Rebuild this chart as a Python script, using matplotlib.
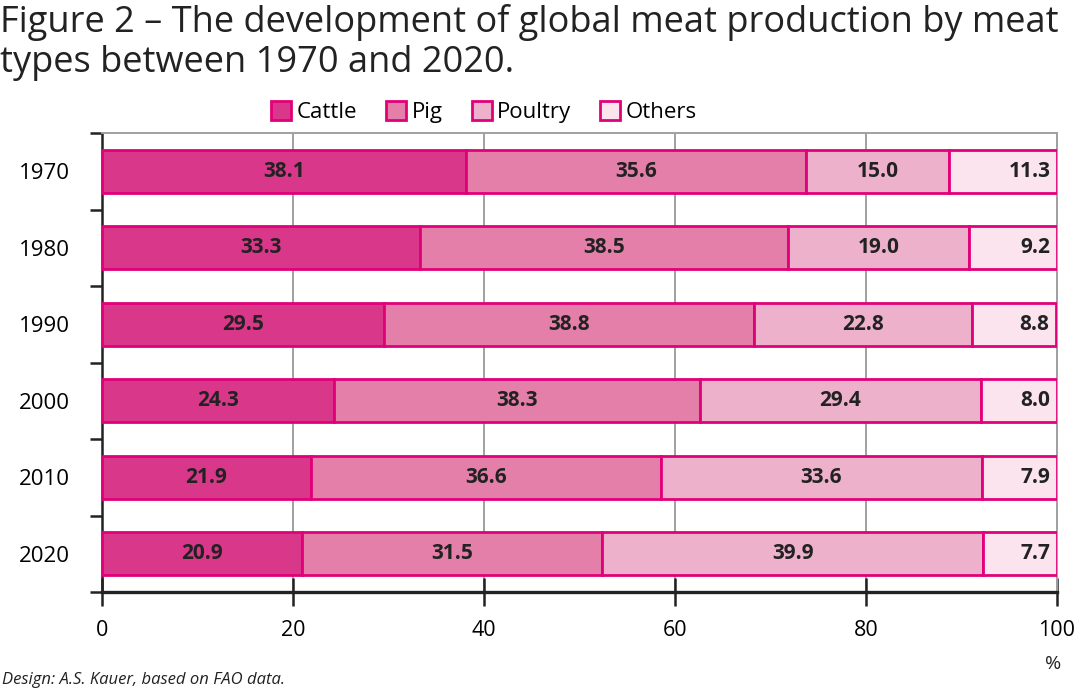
import matplotlib.pyplot as plt

plt.rcParams['font.family'] = ['Open Sans', 'DejaVu Sans']

years = ['1970', '1980', '1990', '2000', '2010', '2020']
cattle = [38.1, 33.3, 29.5, 24.3, 21.9, 20.9]
pig = [35.6, 38.5, 38.8, 38.3, 36.6, 31.5]
poultry = [15.0, 19.0, 22.8, 29.4, 33.6, 39.9]
others = [11.3, 9.2, 8.8, 8.0, 7.9, 7.7]

series = [('Cattle', cattle, '#d9378a'),
          ('Pig', pig, '#e37fa9'),
          ('Poultry', poultry, '#eeb1cb'),
          ('Others', others, '#fbe4ee')]
edge = '#e2007a'

title_lines = ['Figure 2 – The development of global meat production by meat',
               'types between 1970 and 2020.']

fig = plt.figure(figsize=(10.8, 6.95), dpi=100)
ax = fig.add_axes([102 / 1080, 1 - 592 / 695, (1057 - 102) / 1080, (592 - 133) / 695])

ypos = list(range(len(years)))
left = [0] * len(years)
for name, vals, col in series:
    ax.barh(ypos, vals, left=left, height=0.56, color=col, edgecolor=edge,
            linewidth=2.0, label=name, zorder=3)
    for y, l, v in zip(ypos, left, vals):
        if name == 'Others':
            ax.text(l + v - 0.7, y, f'{v:.1f}', ha='right', va='center',
                    fontsize=15, fontweight='bold', color='#222222', zorder=4)
        else:
            ax.text(l + v / 2, y, f'{v:.1f}', ha='center', va='center',
                    fontsize=15, fontweight='bold', color='#222222', zorder=4)
    left = [a + b for a, b in zip(left, vals)]

ax.set_xlim(0, 100)
ax.set_ylim(len(years) - 0.5, -0.5)
ax.set_xticks([0, 20, 40, 60, 80, 100])
ax.tick_params(axis='x', labelsize=15.5, length=20, width=1.8, direction='inout',
               pad=10, color='#222222')
ax.set_yticks(ypos)
ax.set_yticklabels(years)
ax.tick_params(axis='y', which='major', length=0, labelsize=16, pad=23)
ax.set_yticks([y - 0.5 for y in ypos] + [len(years) - 0.5], minor=True)
ax.tick_params(axis='y', which='minor', length=9, width=1.8, color='#222222')

ax.grid(axis='x', color='#a0a0a0', linewidth=1.4, zorder=0)
ax.spines['top'].set_color('#a0a0a0')
ax.spines['right'].set_color('#a0a0a0')
ax.spines['top'].set_linewidth(1.4)
ax.spines['right'].set_linewidth(1.4)
ax.spines['left'].set_linewidth(1.8)
ax.spines['bottom'].set_linewidth(2.4)
ax.spines['left'].set_color('#222222')
ax.spines['bottom'].set_color('#222222')

ax.legend(loc='lower center', bbox_to_anchor=(0.40, 1.0), ncol=4, frameon=False,
          fontsize=16, handlelength=0.9, handleheight=0.9, handletextpad=0.25,
          columnspacing=1.3, borderaxespad=0.05)

# title placed line by line by baseline
fig.text(0.0, 1 - 32 / 695, title_lines[0], ha='left', va='baseline', fontsize=26,
         color='#222222')
fig.text(0.0, 1 - 72 / 695, title_lines[1], ha='left', va='baseline', fontsize=26,
         color='#222222')
fig.text(1053 / 1080, 1 - 664 / 695, '%', ha='center', va='center', fontsize=14,
         color='#222222')
fig.text(0.002, 1 - 680 / 695, 'Design: A.S. Kauer, based on FAO data.', ha='left',
         va='center', fontsize=12, style='italic', color='#222222')

fig.savefig('out.png', dpi=100)
